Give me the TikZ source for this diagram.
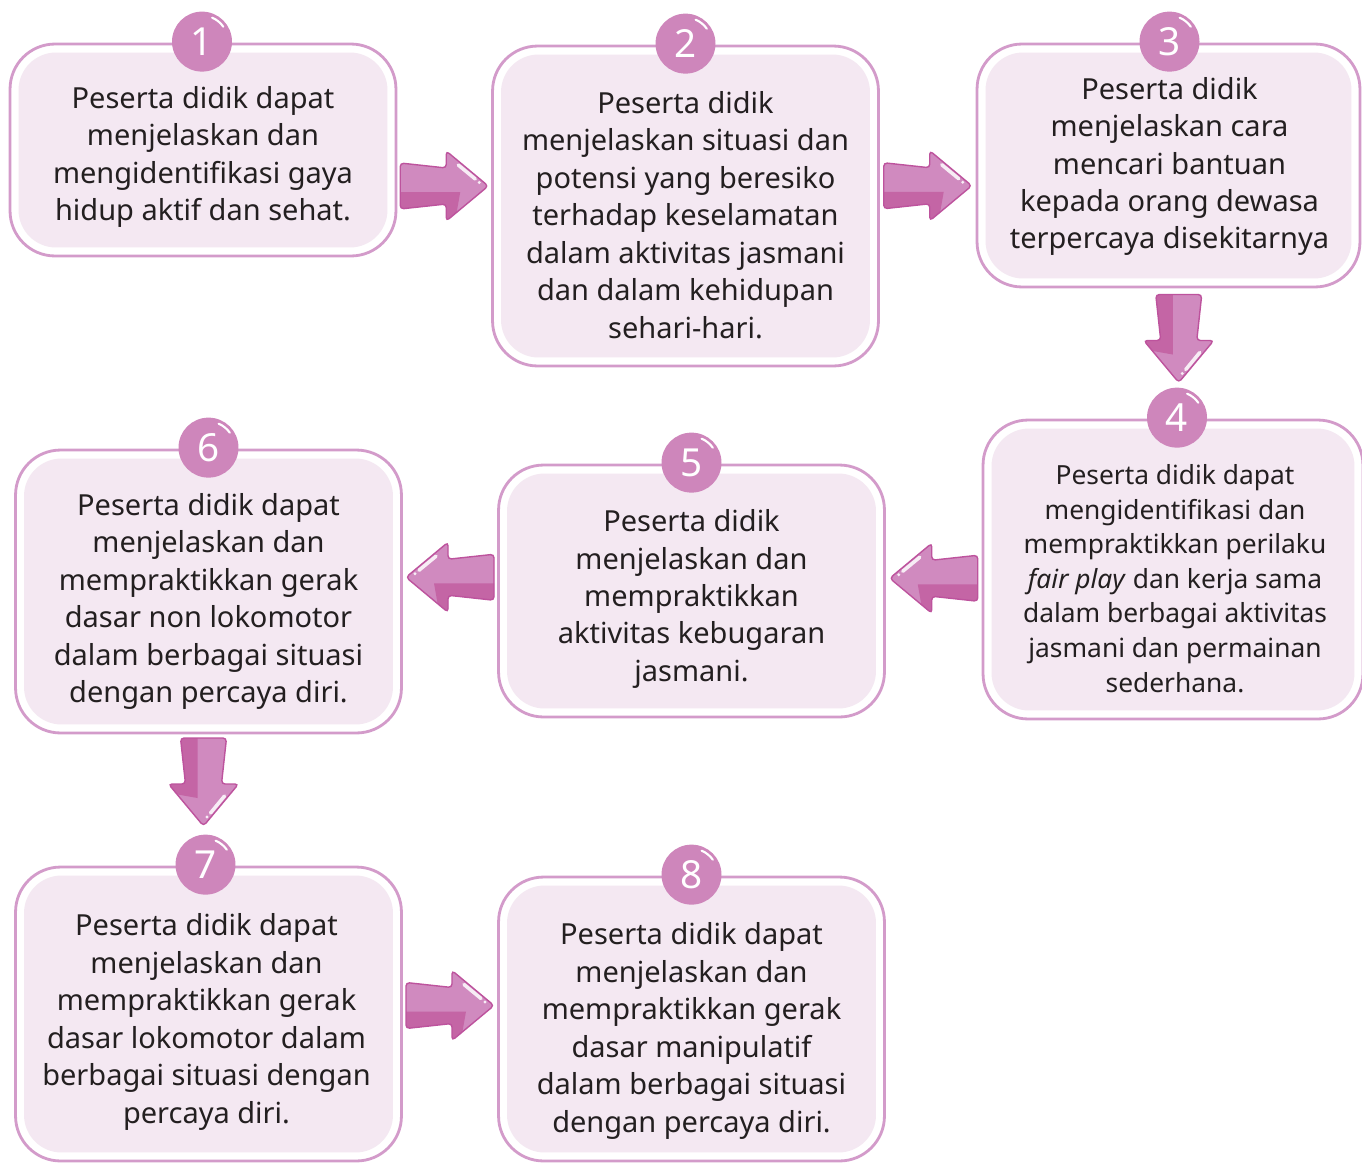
\documentclass[tikz,border=0pt]{standalone}
\usepackage{fontspec}
\setmainfont{Noto Sans}
\usetikzlibrary{calc}
\definecolor{boxline}{HTML}{D39BCA}
\definecolor{boxfill}{HTML}{F4E8F2}
\definecolor{numfill}{HTML}{CE86BB}
\definecolor{arrowlight}{HTML}{D08ABF}
\definecolor{arrowdark}{HTML}{C465A5}
\definecolor{arrowedge}{HTML}{BD539D}
\definecolor{txt}{HTML}{231F20}

\begin{document}
\begin{tikzpicture}[x=0.02cm,y=-0.02cm,line cap=round,
				box/.style={draw=boxline,line width=1.6pt,fill=white,rounded corners=0.9cm,
					inner sep=0pt,minimum width=7.72cm,
					path picture={\fill[boxfill,rounded corners=0.75cm]
						([shift={(0.17cm,-0.17cm)}]path picture bounding box.north west) rectangle
						([shift={(-0.17cm,0.17cm)}]path picture bounding box.south east);}},
				boxtext/.style={align=center,text=txt,inner sep=0pt,font=\fontsize{16.5}{21.3}\selectfont},
				num/.style={circle,fill=numfill,minimum size=1.2cm,inner sep=0pt,text=white,
					font=\fontsize{22}{22}\selectfont},
				bigarrow/.pic={
					\fill[arrowlight,rounded corners=2] (-44,-23) -- (2,-18) -- (2,-35) -- (44,0) -- (2,35) -- (2,18) -- (-44,23) -- cycle;
					\begin{scope}
						\clip[rounded corners=2] (-44,-23) -- (2,-18) -- (2,-35) -- (44,0) -- (2,35) -- (2,18) -- (-44,23) -- cycle;
						\fill[arrowdark] (-50,6) -- (16,6) -- (10,40) -- (-50,40) -- cycle;
					\end{scope}
					\draw[arrowedge,line width=0.8pt,rounded corners=2] (-44,-23) -- (2,-18) -- (2,-35) -- (44,0) -- (2,35) -- (2,18) -- (-44,23) -- cycle;
					\draw[white,opacity=0.85,line width=2pt] (14,-21) -- (31,-7);
					\fill[white,opacity=0.85] (35,-3.5) circle (1.6);
				}]
				\useasboundingbox (0,0) rectangle (1362,1163);
				%\draw[help lines] (0,0) grid[step=100] (1362,1163);
				\node[box,minimum height=4.24cm] (b1) at (203,150) {};
				\node[box,minimum height=6.4cm] (b2) at (685.5,206) {};
				\node[box,minimum height=4.86cm,minimum width=7.66cm] (b3) at (1168.5,165.5) {};
				\node[box,minimum height=5.98cm,minimum width=7.6cm] (b4) at (1173,569.5) {};
				\node[box,minimum height=5.04cm] (b5) at (691.5,591) {};
				\node[box,minimum height=5.66cm] (b6) at (208.5,591.5) {};
				\node[box,minimum height=5.88cm] (b7) at (208.5,1014) {};
				\node[box,minimum height=5.68cm] (b8) at (691.5,1019) {};
				
				\node[boxtext] (t1) at ($(b1.center)+(0,7)$) {Peserta didik dapat\\ menjelaskan dan\\ mengidentifikasi gaya\\ hidup aktif dan sehat.};
				\node[boxtext] (t2) at ($(b2.center)+(0,9)$) {Peserta didik\\ menjelaskan situasi dan\\ potensi yang beresiko\\ terhadap keselamatan\\ dalam aktivitas jasmani\\ dan dalam kehidupan\\ sehari-hari.};
				\node[boxtext] (t3) at ($(b3.center)+(1,1)$) {Peserta didik\\ menjelaskan cara\\ mencari bantuan\\ kepada orang dewasa\\ terpercaya disekitarnya};
				\node[boxtext,font=\fontsize{15}{19.7}\selectfont] (t4) at ($(b4.center)+(2,9)$) {Peserta didik dapat\\ mengidentifikasi dan\\ mempraktikkan perilaku\\ \textit{fair play} dan kerja sama\\ dalam berbagai aktivitas\\ jasmani dan permainan\\ sederhana.};
				\node[boxtext] (t5) at ($(b5.center)+(0,8)$) {Peserta didik\\ menjelaskan dan\\ mempraktikkan\\ aktivitas kebugaran\\ jasmani.};
				\node[boxtext] (t6) at ($(b6.center)+(0,10)$) {Peserta didik dapat\\ menjelaskan dan\\ mempraktikkan gerak\\ dasar non lokomotor\\ dalam berbagai situasi\\ dengan percaya diri.};
				\node[boxtext] (t7) at ($(b7.center)+(-2,8)$) {Peserta didik dapat\\ menjelaskan dan\\ mempraktikkan gerak\\ dasar lokomotor dalam\\ berbagai situasi dengan\\ percaya diri.};
				\node[boxtext] (t8) at ($(b8.center)+(0,12)$) {Peserta didik dapat\\ menjelaskan dan\\ mempraktikkan gerak\\ dasar manipulatif\\ dalam berbagai situasi\\ dengan percaya diri.};
				
				\foreach \N/\D in {1/-1,2/0,3/1,4/4,5/0,6/0,7/-3,8/0}
				{\node[num] (c\N) at ($(b\N.north)+(\D,-1)$) {\N};
					\draw[white,line width=1.2pt] ([shift={(-67:26)}]c\N.center) arc (-67:-35:26);}
				
				\pic at ($(b1.east)!0.5!(b2.west)+(0,8)$) {bigarrow};
				\pic at ($(b2.east)!0.5!(b3.west)$) {bigarrow};
				\pic[rotate=-90] at ($(b3.south)!0.5!(b4.north)+(8,-15)$) {bigarrow};
				\pic[xscale=-1] at ($(b4.west)!0.5!(b5.east)+(0,-2)$) {bigarrow};
				\pic[xscale=-1] at ($(b5.west)!0.5!(b6.east)+(0,-14)$) {bigarrow};
				\pic[rotate=-90] at ($(b6.south)!0.5!(b7.north)+(-5,-18)$) {bigarrow};
				\pic at ($(b7.east)!0.5!(b8.west)+(0,-11)$) {bigarrow};
			\end{tikzpicture}
\end{document}
